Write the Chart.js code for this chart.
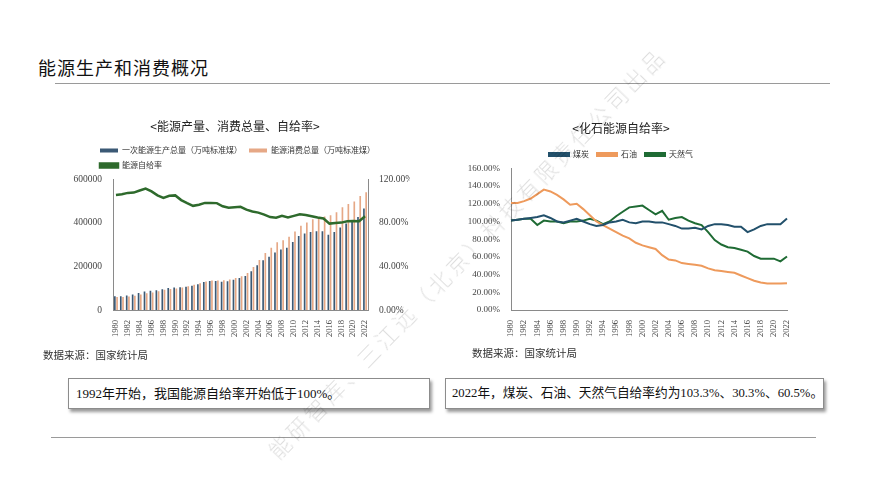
<!DOCTYPE html>
<html>
<head>
<meta charset="utf-8">
<script src="https://cdn.jsdelivr.net/npm/chart.js@4.4.1/dist/chart.umd.min.js"></script>
<style>
  body { margin: 0; width: 889px; height: 500px; background: #fff; position: relative; overflow: hidden;
         font-family: "Liberation Serif", "Noto Sans CJK SC", serif; color: #222; }
  .abs { position: absolute; }
  #title { left: 38px; top: 54px; font-size: 18px; font-family: "Noto Sans CJK SC", sans-serif; color: #111; letter-spacing: 1px; }
  .hline { position: absolute; height: 0; border-top: 1.5px solid #9a9a9a; }
  .src { font-size: 10.5px; font-family: "Noto Sans CJK SC", sans-serif; color: #333; }
  .box { position: absolute; background: #fff; border: 1px solid #8c8c8c; box-shadow: 2px 3px 3px #9a9a9a;
         font-size: 13px; line-height: 29px; padding-left: 7px; box-sizing: border-box; white-space: nowrap; color: #111; }
  #wm { left: 186px; top: 237px; width: 560px; font-size: 21.5px; letter-spacing: 4px; color: rgba(0,0,0,0.13);
        font-family: "Noto Sans CJK SC", sans-serif; font-weight: 300; transform: rotate(-46deg); transform-origin: 50% 50%;
        white-space: nowrap; pointer-events: none; z-index: 5; }
  canvas { display: block; }
</style>
</head>
<body>
<div id="title" class="abs">能源生产和消费概况</div>
<div class="hline" style="left:55px; top:83px; width:775px;"></div>

<div class="abs" style="left:60px; top:108px; width:350px; height:240px;"><canvas id="chartLeft"></canvas></div>
<div class="abs" style="left:455px; top:108px; width:345px; height:240px;"><canvas id="chartRight"></canvas></div>

<div class="abs src" style="left:43px; top:347px;">数据来源：国家统计局</div>
<div class="abs src" style="left:472px; top:345px;">数据来源：国家统计局</div>

<div class="box" style="left:68px; top:378px; width:362px; height:31px;">1992年开始，我国能源自给率开始低于100%。</div>
<div class="box" style="left:445px; top:378px; width:379px; height:31px; font-size:12.7px; padding-left:6px;">2022年，煤炭、石油、天然气自给率约为103.3%、30.3%、60.5%。</div>

<div class="hline" style="left:51px; top:437px; width:765px;"></div>

<div id="wm" class="abs">能研智库、三江远（北京）科技有限责任公司出品</div>

<script>
// 年份
const years = ["1980","1981","1982","1983","1984","1985","1986","1987","1988","1989",
               "1990","1991","1992","1993","1994","1995","1996","1997","1998","1999",
               "2000","2001","2002","2003","2004","2005","2006","2007","2008","2009",
               "2010","2011","2012","2013","2014","2015","2016","2017","2018","2019",
               "2020","2021","2022"];

// 一次能源生产总量（万吨标准煤）
const production = [63735, 63227, 66778, 71270, 77855, 85546, 88124, 91266, 95801, 101639,
                    103922, 104844, 107256, 111059, 118729, 129034, 133032, 133460, 129834, 131935,
                    138570, 147425, 156277, 178299, 206108, 229037, 244763, 264173, 277419, 286092,
                    312125, 340178, 351041, 358784, 361866, 361476, 345954, 358867, 378859, 397317,
                    407295, 427115, 466000];

// 能源消费总量（万吨标准煤）
const consumption = [60275, 59447, 62067, 66040, 70904, 76682, 80850, 86632, 92997, 96934,
                     98703, 103783, 109170, 115993, 122737, 131176, 135192, 135909, 136184, 140569,
                     146964, 155547, 169577, 197083, 230281, 261369, 286467, 311442, 320611, 336126,
                     360648, 387043, 402138, 416913, 425806, 429905, 435819, 448529, 471925, 487488,
                     498314, 524000, 541000];

// 能源自给率（%）
const selfRate = [105.7, 106.4, 107.6, 107.9, 109.8, 111.6, 109.0, 105.3, 103.0, 104.9,
                  105.3, 101.0, 98.2, 95.7, 96.7, 98.4, 98.4, 98.2, 95.3, 93.9,
                  94.3, 94.8, 92.2, 90.5, 89.5, 87.6, 85.4, 84.8, 86.5, 85.1,
                  86.5, 87.9, 87.3, 86.1, 85.0, 84.1, 79.4, 80.0, 80.3, 81.5,
                  81.7, 81.5, 86.1];

// 化石能源自给率（%）
const coalRate = [101, 102, 103, 104, 105, 107, 104, 100, 99, 101,
                  103, 100, 97, 95, 96, 99, 100, 102, 99, 98,
                  100, 100, 99, 99, 97, 95, 92, 92, 93, 91,
                  95, 97, 97, 96, 94, 94, 88, 91, 95, 97,
                  97, 97, 103.3];
const oilRate = [121, 121, 123, 126, 131, 136, 134, 130, 125, 119,
                 120, 114, 107, 100, 96, 92, 88, 84, 81, 76,
                 73, 71, 69, 62, 57, 56, 53, 52, 51, 50,
                 47, 45, 44, 43, 42, 39, 36, 33, 31, 30,
                 30, 30, 30.3];
const gasRate = [101, 102, 103, 103, 96, 101, 100, 100, 98, 100,
                 100, 101, 103, 101, 97, 100, 106, 111, 116, 117,
                 118, 113, 108, 112, 102, 104, 105, 101, 98, 96,
                 88, 79, 74, 71, 70, 68, 66, 61, 58, 58,
                 58, 55, 60.5];

const serif = '"Liberation Serif", "Noto Sans CJK SC", serif';
const cjk = '"Noto Sans CJK SC", sans-serif';
const tickColor = "#444";
const axisColor = "#8a8a8a";

// 图例整体左移
const legendShift = {
    id: "legendShift",
    afterLayout(chart, args, opts) {
        if (opts.x != null) chart.legend.left = opts.x - chart.legend.options.labels.padding;
    }
};

function yearTick(val, idx) {
    return idx % 2 === 0 ? years[idx] : "";
}

function xAxis() {
    return {
        grid: { display: false },
        border: { display: true, color: axisColor },
        ticks: {
            autoSkip: false, minRotation: 90, maxRotation: 90, padding: 2,
            color: tickColor, font: { family: serif, size: 8.5 },
            callback: yearTick
        },
        afterFit: s => { s.height = 38; }
    };
}

// 能源产量、消费总量、自给率
new Chart(document.getElementById("chartLeft"), {
    type: "bar",
    data: {
        labels: years,
        datasets: [
            { label: "一次能源生产总量（万吨标准煤）", data: production, backgroundColor: "#3B5975",
              barPercentage: 0.75, categoryPercentage: 0.75, order: 1 },
            { label: "能源消费总量（万吨标准煤）", data: consumption, backgroundColor: "#E6A886",
              barPercentage: 0.75, categoryPercentage: 0.75, order: 1 },
            { type: "line", label: "能源自给率", data: selfRate, yAxisID: "y1", borderColor: "#2E6A2C",
              backgroundColor: "#2E6A2C", borderWidth: 2.5, pointRadius: 0, tension: 0, order: 0 }
        ]
    },
    plugins: [legendShift],
    options: {
        responsive: true, maintainAspectRatio: false, animation: false,
        layout: { padding: 0 },
        plugins: {
            title: { display: true, text: "<能源产量、消费总量、自给率>", color: "#222",
                     font: { family: cjk, size: 12, weight: "normal" }, padding: { top: 11, bottom: 6 } },
            legend: {
                align: "start",
                labels: { boxWidth: 18, boxHeight: 4, padding: 7, color: "#333",
                          font: { family: cjk, size: 8 },
                          sort: (a, b) => a.datasetIndex - b.datasetIndex }
            },
            legendShift: { x: 40 },
            tooltip: { enabled: false }
        },
        scales: {
            x: xAxis(),
            y: {
                min: 0, max: 600000,
                grid: { display: false },
                border: { display: true, color: axisColor },
                ticks: { stepSize: 200000, color: tickColor, font: { family: serif, size: 9.5 },
                         callback: v => String(v) },
                afterFit: s => { s.width = 53; }
            },
            y1: {
                position: "right", min: 0, max: 120,
                grid: { display: false },
                border: { display: true, color: axisColor },
                ticks: { stepSize: 40, color: tickColor, font: { family: serif, size: 9.5 },
                         callback: v => v.toFixed(2) + "%" },
                afterFit: s => { s.width = 42; }
            }
        }
    }
});

// 化石能源自给率
new Chart(document.getElementById("chartRight"), {
    type: "line",
    data: {
        labels: years,
        datasets: [
            { label: "煤炭", data: coalRate, borderColor: "#22506B", backgroundColor: "#22506B" },
            { label: "石油", data: oilRate, borderColor: "#EE9A5C", backgroundColor: "#EE9A5C" },
            { label: "天然气", data: gasRate, borderColor: "#1F6B34", backgroundColor: "#1F6B34" }
        ]
    },
    options: {
        responsive: true, maintainAspectRatio: false, animation: false,
        layout: { padding: { right: 13 } },
        elements: { line: { borderWidth: 2, tension: 0 }, point: { radius: 0 } },
        plugins: {
            title: { display: true, text: "<化石能源自给率>", color: "#222",
                     font: { family: cjk, size: 12, weight: "normal" }, padding: { top: 13, bottom: 7 } },
            legend: {
                labels: { boxWidth: 20, boxHeight: 3, padding: 8, color: "#333",
                          font: { family: cjk, size: 8 } }
            },
            tooltip: { enabled: false }
        },
        scales: {
            x: xAxis(),
            y: {
                min: 0, max: 160,
                grid: { display: false },
                border: { display: true, color: axisColor },
                ticks: { stepSize: 20, color: tickColor, font: { family: serif, size: 9 },
                         callback: v => v.toFixed(2) + "%" },
                afterFit: s => { s.width = 56; }
            }
        }
    }
});
</script>
</body>
</html>
